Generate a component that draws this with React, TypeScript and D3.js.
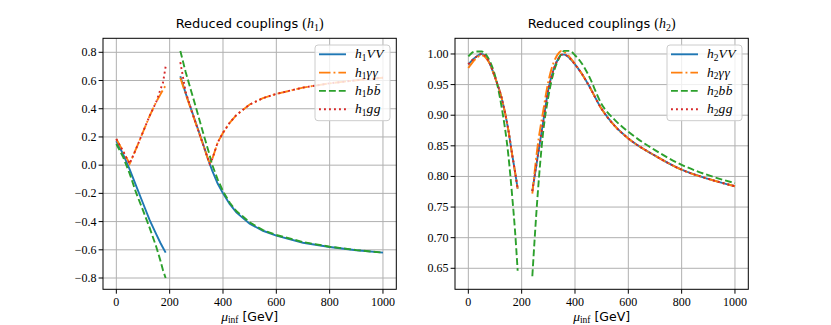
import React from 'react';
import * as d3 from 'd3';

// mu_inf grid in GeV, NaN marks the gap between the two branches
const mu = [0, 25, 50, 75, 100, 125, 150, 165, 175, 185, NaN, 240, 260, 280, 300, 320, 340, 350, 360, 380, 400, 425, 450, 500, 550, 600, 700, 800, 900, 1000];

const h1VV = [0.17, 0.08, -0.03, -0.15, -0.27, -0.39, -0.49, -0.55, -0.585, -0.62, null, 0.63, 0.51, 0.40, 0.29, 0.18, 0.065, 0.01, -0.04, -0.13, -0.20, -0.275, -0.335, -0.415, -0.465, -0.50, -0.55, -0.58, -0.603, -0.62];
const h1AA = [0.185, 0.10, 0.01, 0.12, 0.235, 0.35, 0.45, 0.50, 0.535, 0.565, null, 0.62, 0.505, 0.395, 0.285, 0.175, 0.065, 0.01, 0.045, 0.16, 0.23, 0.30, 0.355, 0.43, 0.475, 0.505, 0.55, 0.58, 0.602, 0.62];
const h1BB = [0.15, 0.06, -0.06, -0.20, -0.32, -0.445, -0.58, -0.675, -0.745, -0.80, null, 0.81, 0.66, 0.53, 0.40, 0.265, 0.135, 0.07, 0.0, -0.10, -0.185, -0.265, -0.325, -0.405, -0.46, -0.495, -0.545, -0.578, -0.602, -0.62];
const h1GG = [0.185, 0.10, 0.01, 0.12, 0.235, 0.35, 0.45, 0.535, 0.585, 0.70, null, 0.73, 0.52, 0.40, 0.285, 0.175, 0.065, 0.01, 0.045, 0.16, 0.23, 0.30, 0.355, 0.43, 0.475, 0.505, 0.55, 0.58, 0.602, 0.62];

const h2VV = [0.983, 0.994, 1.0, 0.989, 0.962, 0.928, 0.876, 0.834, 0.808, 0.78, null, 0.776, 0.832, 0.887, 0.942, 0.975, 0.994, 0.999, 0.999, 0.993, 0.983, 0.968, 0.95, 0.91, 0.882, 0.862, 0.834, 0.811, 0.796, 0.784];
const h2AA = [0.977, 0.991, 0.998, 0.988, 0.962, 0.928, 0.876, 0.834, 0.808, 0.78, null, 0.772, 0.85, 0.905, 0.955, 0.986, 1.002, 1.005, 1.003, 0.995, 0.984, 0.968, 0.95, 0.91, 0.882, 0.862, 0.834, 0.811, 0.796, 0.784];
const h2BB = [0.996, 1.004, 1.004, 0.993, 0.965, 0.913, 0.835, 0.765, 0.712, 0.646, null, 0.637, 0.77, 0.87, 0.93, 0.97, 0.993, 1.001, 1.005, 1.005, 0.998, 0.985, 0.966, 0.918, 0.892, 0.873, 0.843, 0.819, 0.802, 0.789];
const h2GG = [0.983, 0.994, 1.0, 0.989, 0.962, 0.928, 0.876, 0.834, 0.808, 0.78, null, 0.776, 0.832, 0.887, 0.942, 0.975, 0.994, 0.999, 0.999, 0.993, 0.983, 0.968, 0.95, 0.91, 0.882, 0.862, 0.834, 0.811, 0.796, 0.784];

const xTicks = [0, 200, 400, 600, 800, 1000];
const yTicks1 = [-0.8, -0.6, -0.4, -0.2, 0.0, 0.2, 0.4, 0.6, 0.8];
const yTicks2 = [0.65, 0.70, 0.75, 0.80, 0.85, 0.90, 0.95, 1.00];
const legendKeys = ['VV', 'γγ', 'bb̄', 'gg'];

const SERIF = '"Liberation Serif", "DejaVu Serif", serif';
const SANS = '"DejaVu Sans", sans-serif';

const styles = [
  { color: '#1f77b4', dash: 'none' },
  { color: '#ff7f0e', dash: '11.5,3,1.9,3' },
  { color: '#2ca02c', dash: '6.9,3' },
  { color: '#d62728', dash: '1.9,3.1' },
];

const fmtMinus = (s: string) => s.replace('-', '\u2212');

type PanelProps = {
  box: { x0: number; x1: number; y0: number; y1: number };
  yDomain: [number, number];
  yTicks: number[];
  yFmt: (v: number) => string;
  series: (number | null)[][];
  idx: string;
  curve: d3.CurveFactory;
};

const Panel = ({ box, yDomain, yTicks, yFmt, series, idx, curve }: PanelProps) => {
  const x = d3.scaleLinear().domain([-50, 1050]).range([box.x0, box.x1]);
  const y = d3.scaleLinear().domain(yDomain).range([box.y1, box.y0]);
  const line = d3.line<[number, number | null]>()
    .defined(d => !isNaN(d[0]) && d[1] !== null)
    .x(d => x(d[0]))
    .y(d => y(d[1] as number))
    .curve(curve);
  const cx = (box.x0 + box.x1) / 2;
  const clipId = `clip${idx}`;

  const lgW = 75, lgH = 75.7;
  const lgX = box.x1 - 6.3 - lgW, lgY = box.y0 + 6.7;

  return (
    <g>
      <defs>
        <clipPath id={clipId}>
          <rect x={box.x0} y={box.y0} width={box.x1 - box.x0} height={box.y1 - box.y0} />
        </clipPath>
      </defs>
      {/* grid */}
      {xTicks.map(t => (
        <line key={'gx' + t} x1={x(t)} x2={x(t)} y1={box.y0} y2={box.y1} stroke="#b0b0b0" strokeWidth={1} />
      ))}
      {yTicks.map(t => (
        <line key={'gy' + t} x1={box.x0} x2={box.x1} y1={y(t)} y2={y(t)} stroke="#b0b0b0" strokeWidth={1} />
      ))}
      {/* lines */}
      <g clipPath={`url(#${clipId})`}>
        {series.map((s, i) => (
          <path key={i} d={line(mu.map((m, j) => [m, s[j]] as [number, number | null])) || ''}
            fill="none" stroke={styles[i].color} strokeWidth={1.9}
            strokeDasharray={styles[i].dash} />
        ))}
      </g>
      {/* frame */}
      <rect x={box.x0} y={box.y0} width={box.x1 - box.x0} height={box.y1 - box.y0} fill="none" stroke="#000" strokeWidth={1} />
      {/* ticks */}
      {xTicks.map(t => (
        <g key={'tx' + t}>
          <line x1={x(t)} x2={x(t)} y1={box.y1} y2={box.y1 + 4.4} stroke="#000" strokeWidth={1} />
          <text x={x(t)} y={box.y1 + 17} textAnchor="middle" fontFamily={SERIF} fontSize={12}>{t}</text>
        </g>
      ))}
      {yTicks.map(t => (
        <g key={'ty' + t}>
          <line x1={box.x0 - 4.4} x2={box.x0} y1={y(t)} y2={y(t)} stroke="#000" strokeWidth={1} />
          <text x={box.x0 - 6.5} y={y(t) + 4} textAnchor="end" fontFamily={SERIF} fontSize={12}>{yFmt(t)}</text>
        </g>
      ))}
      {/* title */}
      <text x={cx} y={28.3} textAnchor="middle" fontSize={13}>
        <tspan fontFamily={SANS}>Reduced couplings </tspan>
        <tspan fontFamily={SERIF} fontSize={14}>(</tspan>
        <tspan fontFamily={SERIF} fontSize={14} fontStyle="italic">h</tspan>
        <tspan fontFamily={SERIF} fontSize={10} dy={2.5}>{idx}</tspan>
        <tspan fontFamily={SERIF} fontSize={14} dy={-2.5}>)</tspan>
      </text>
      {/* x label */}
      <text x={cx} y={320.5} textAnchor="middle" fontSize={12.5}>
        <tspan fontFamily={SERIF} fontSize={13.5} fontStyle="italic">μ</tspan>
        <tspan fontFamily={SERIF} fontSize={9.5} dy={2.5}>inf</tspan>
        <tspan fontFamily={SANS} dy={-2.5}> [GeV]</tspan>
      </text>
      {/* legend */}
      <rect x={lgX} y={lgY} width={lgW} height={lgH} rx={3} fill="#fff" fillOpacity={0.8} stroke="#cccccc" strokeWidth={1} />
      {legendKeys.map((k, i) => {
        const ry = lgY + 9.3 + i * 18.3;
        return (
          <g key={k}>
            <line x1={lgX + 4} x2={lgX + 31} y1={ry} y2={ry} stroke={styles[i].color} strokeWidth={1.9} strokeDasharray={styles[i].dash} />
            <text x={lgX + 40} y={ry + 4} fontFamily={SERIF} fontSize={13.5}>
              <tspan fontStyle="italic">h</tspan>
              <tspan fontSize={9.5} dy={2.5}>{idx}</tspan>
              <tspan fontStyle="italic" dy={-2.5} letterSpacing={0.6}>{k}</tspan>
            </text>
          </g>
        );
      })}
    </g>
  );
};

export default function App() {
  return (
    <div style={{ position: 'fixed', left: 0, top: 0 }}>
      <svg width={831} height={325} style={{ display: 'block', background: '#fff' }}>
        <Panel
          box={{ x0: 103, x1: 396.3, y0: 38.3, y1: 289.3 }}
          yDomain={[-0.88, 0.8993]}
          yTicks={yTicks1}
          yFmt={v => fmtMinus(v.toFixed(1))}
          series={[h1VV, h1AA, h1BB, h1GG]}
          idx="1"
          curve={d3.curveLinear}
        />
        <Panel
          box={{ x0: 455, x1: 748.3, y0: 38.3, y1: 289.3 }}
          yDomain={[0.6157, 1.0256]}
          yTicks={yTicks2}
          yFmt={v => v.toFixed(2)}
          series={[h2VV, h2AA, h2BB, h2GG]}
          idx="2"
          curve={d3.curveMonotoneX}
        />
      </svg>
    </div>
  );
}
